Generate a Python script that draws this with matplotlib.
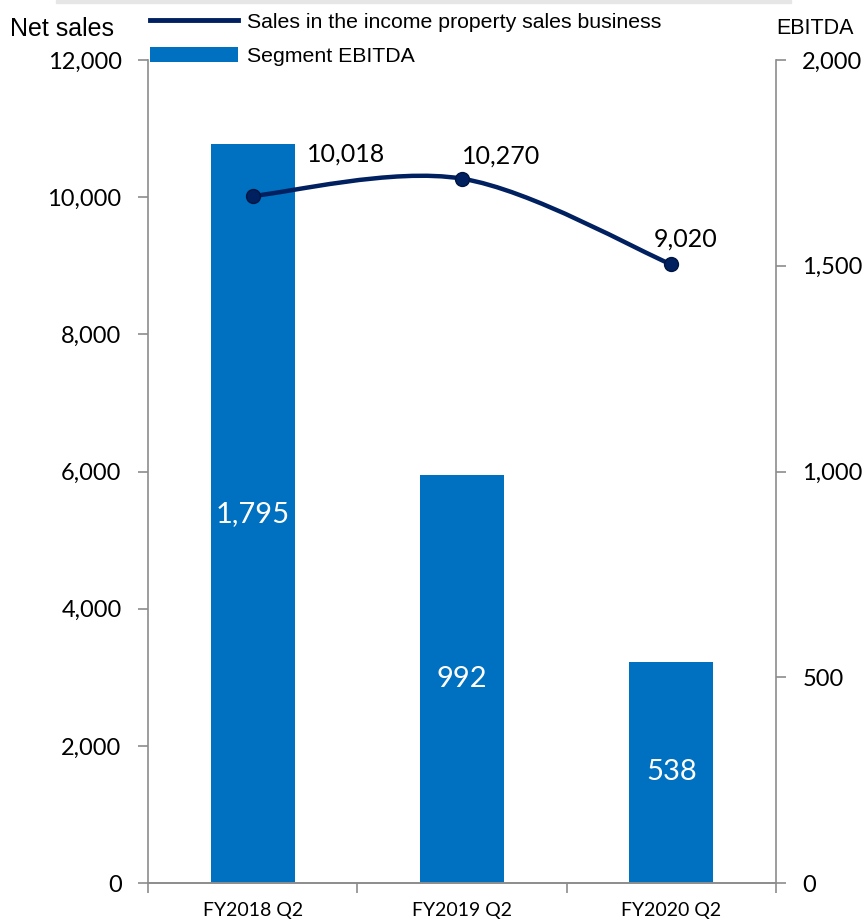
import numpy as np
import matplotlib
matplotlib.use("Agg")
import matplotlib.pyplot as plt
from matplotlib.path import Path
from matplotlib.patches import PathPatch, Patch, Rectangle
from matplotlib.lines import Line2D

periods = ["FY2018 Q2", "FY2019 Q2", "FY2020 Q2"]
net_sales = [10018, 10270, 9020]
ebitda = [1795, 992, 538]

bar_color = "#0070C0"
line_color = "#002060"
spine_gray = "#8c8c8c"
num_font = "Lato"
txt_font = "Liberation Sans"


def smooth_path(xs, ys, k=1.0 / 6):
    # bezier segments through the points, excel-style smoothing
    pts = np.column_stack([xs, ys]).astype(float)
    n = len(pts)
    verts = [pts[0]]
    codes = [Path.MOVETO]
    for i in range(n - 1):
        p0 = pts[max(i - 1, 0)]
        p1 = pts[i]
        p2 = pts[i + 1]
        p3 = pts[min(i + 2, n - 1)]
        c1 = p1 + (p2 - p0) * k
        c2 = p2 - (p3 - p1) * k
        verts += [c1, c2, p2]
        codes += [Path.CURVE4] * 3
    return Path(verts, codes)


fig = plt.figure(figsize=(8.64, 9.23), dpi=100)
ax = fig.add_axes([0.1713, 0.0433, 0.7268, 0.8917])
ax2 = ax.twinx()
ax.set_zorder(ax2.get_zorder() + 1)
ax.patch.set_visible(False)

x = np.arange(len(periods))

# EBITDA bars on the right axis
bars = ax2.bar(x, ebitda, width=0.4, color=bar_color, zorder=2)
ax2.bar_label(bars, labels=[f"{v:,}" for v in ebitda], label_type="center",
              color="white", fontsize=21, fontfamily=num_font)
ax2.set_ylim(0, 2000)
ax2.set_yticks([0, 500, 1000, 1500, 2000])
ax2.set_yticklabels([f"{v:,}" for v in [0, 500, 1000, 1500, 2000]])

# net sales line on the left axis
ax.add_patch(PathPatch(smooth_path(x, net_sales), fill=False,
                       edgecolor=line_color, linewidth=3.2, zorder=3,
                       capstyle="round"))
ax.plot(x, net_sales, linestyle="none", marker="o", markersize=10,
        markerfacecolor=line_color, markeredgecolor="#001640", zorder=4)
offsets = [(39, 22), (0, 8), (10, 10)]
aligns = ["left", "left", "center"]
for xi, v, off, ha in zip(x, net_sales, offsets, aligns):
    ax.annotate(f"{v:,}", (xi, v), xytext=off, textcoords="offset points",
                ha=ha, va="bottom", fontsize=18, fontfamily=num_font,
                color="black", zorder=5)

ax.set_ylim(0, 12000)
ax.set_yticks(range(0, 12001, 2000))
ax.set_yticklabels([f"{v:,}" for v in range(0, 12001, 2000)])
ax.set_xlim(-0.5, 2.5)
ax.set_xticks(x)
ax.set_xticklabels(periods)
ax.set_xticks([-0.5, 0.5, 1.5, 2.5], minor=True)
ax.tick_params(axis="x", which="major", length=0, pad=14)
ax.tick_params(axis="x", which="minor", length=7, width=1.2, color=spine_gray,
               direction="out")

for a in (ax, ax2):
    a.spines["top"].set_visible(False)
    for side in ("left", "right", "bottom"):
        a.spines[side].set_color(spine_gray)
        a.spines[side].set_linewidth(1.2)
    a.tick_params(axis="y", length=7, width=1.2, color=spine_gray, pad=12,
                  labelsize=17)
    for lbl in a.get_yticklabels() + a.get_xticklabels():
        lbl.set_fontfamily(num_font)
for lbl in ax.get_xticklabels():
    lbl.set_fontsize(14)
ax2.spines["left"].set_visible(False)
ax.spines["right"].set_visible(False)

fig.text(0.012, 0.969, "Net sales", fontsize=18, fontfamily=txt_font,
         ha="left", va="center")
fig.text(0.898, 0.969, "EBITDA", fontsize=15.5, fontfamily=txt_font,
         ha="left", va="center")

handles = [Line2D([], [], color=line_color, linewidth=3.5),
           Patch(facecolor=bar_color)]
labels = ["Sales in the income property sales business", "Segment EBITDA"]
fig.legend(handles, labels, loc="upper left", bbox_to_anchor=(0.159, 1.0),
           frameon=False, handlelength=4.15, handleheight=0.66,
           handletextpad=0.42, labelspacing=0.72, borderaxespad=0.2,
           prop={"family": txt_font, "size": 15.3})

# faint shadow strip along the top edge
fig.patches.append(Rectangle((0.065, 0.9965), 0.85, 0.0035,
                             transform=fig.transFigure, color="#e6e6e6",
                             zorder=0))

fig.savefig("out.png", dpi=100)
